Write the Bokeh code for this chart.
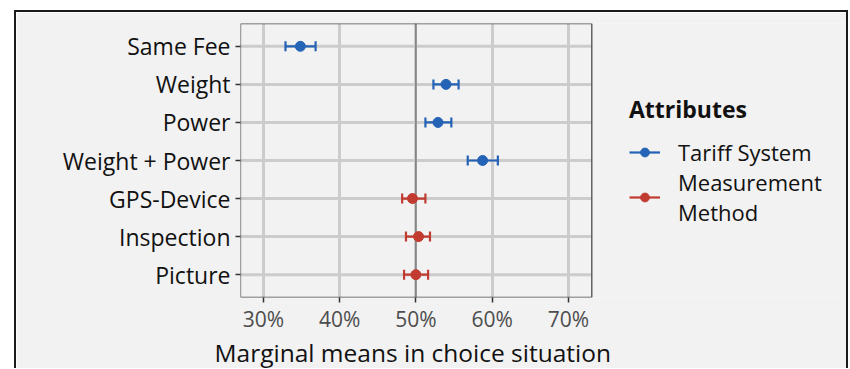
import math
from bokeh.plotting import figure
from bokeh.models import (ColumnDataSource, Range1d, FixedTicker, Span,
                          Legend, LegendItem, BoxAnnotation, Title)
from bokeh.embed import file_html
from bokeh.resources import INLINE

# ---- data ----
attributes = ["Same Fee", "Weight", "Power", "Weight + Power",
              "GPS-Device", "Inspection", "Picture"]
groups = ["Tariff System", "Tariff System", "Tariff System", "Tariff System",
          "Measurement Method", "Measurement Method", "Measurement Method"]
means = [34.85, 53.95, 52.9, 58.75, 49.55, 50.35, 50.0]
lower = [32.9, 52.3, 51.25, 56.8, 48.2, 48.7, 48.45]
upper = [36.85, 55.6, 54.65, 60.75, 51.25, 51.85, 51.6]
reference_value = 50
x_ticks = [30, 40, 50, 60, 70]
x_tick_labels = ["30%", "40%", "50%", "60%", "70%"]
x_title = "Marginal means in choice situation"
group_names = ["Tariff System", "Measurement Method"]
group_labels = ["Tariff System", "Measurement\nMethod"]
group_colors = ["#2463b5", "#c13b30"]

BG = "#f2f2f2"
FONT = "Open Sans"

# panel limits (axis scale) and category positions (top to bottom)
x_min, x_max = 27.0, 73.07
n = len(attributes)
y_pos = [n - 1 - i for i in range(n)]
y_min, y_max = -0.6, n - 1 + 0.6

# layout in pixels
W, H = 834, 358
left_b, top_b, bottom_b = 224, 11, 71
frame_w = (W - 4) - left_b
panel_px = 349.0
x_end = x_min + frame_w * (x_max - x_min) / panel_px

p = figure(width=W, height=H,
           x_range=Range1d(x_min, x_end), y_range=Range1d(y_min, y_max),
           output_backend="svg", toolbar_location=None,
           min_border_left=left_b, min_border_right=0,
           min_border_top=top_b, min_border_bottom=bottom_b)

p.styles = {"border-top": "2px solid #1a1a1a",
            "border-left": "2px solid #1a1a1a",
            "border-right": "2px solid #1a1a1a",
            "margin-left": "14px", "margin-top": "10px"}

p.background_fill_color = BG
p.border_fill_color = BG
p.outline_line_color = None

# grids: vertical from the axis ticker, horizontal drawn within the panel only
p.xgrid.grid_line_color = "#cccccc"
p.xgrid.grid_line_width = 3
p.ygrid.grid_line_color = None
p.segment(x0=[x_min] * n, x1=[x_max] * n, y0=y_pos, y1=y_pos,
          line_color="#cccccc", line_width=3, level="underlay")

# reference line at 50%
p.add_layout(Span(location=reference_value, dimension="height",
                  line_color="#808080", line_width=1.6, level="underlay"))

# panel border
p.add_layout(BoxAnnotation(left=x_min, right=x_max, bottom=y_min, top=y_max,
                           fill_color=None, line_color="#4d4d4d",
                           line_alpha=1.0, line_width=1.3, level="underlay"))

legend_items = []
for name, label, color in zip(group_names, group_labels, group_colors):
    idx = [i for i, g in enumerate(groups) if g == name]
    src = ColumnDataSource(dict(
        y=[y_pos[i] for i in idx],
        m=[means[i] for i in idx],
        lo=[lower[i] for i in idx],
        hi=[upper[i] for i in idx],
    ))
    seg = p.segment(x0="lo", y0="y", x1="hi", y1="y", source=src,
                    line_color=color, line_width=2.2)
    p.scatter(x="lo", y="y", source=src, marker="dash", angle=math.pi / 2,
              size=10, line_color=color, line_width=2.2)
    p.scatter(x="hi", y="y", source=src, marker="dash", angle=math.pi / 2,
              size=10, line_color=color, line_width=2.2)
    pts = p.scatter(x="m", y="y", source=src, size=10, color=color)
    legend_items.append(LegendItem(label=label, renderers=[seg, pts]))

legend = Legend(items=legend_items, title="Attributes", location=(389, 70),
                margin=0, padding=0,
                label_text_font=FONT, label_text_font_size="22px",
                label_text_color="#111111",
                title_text_font=FONT, title_text_font_size="23px",
                title_text_font_style="bold", title_text_color="#111111",
                glyph_width=31, glyph_height=22, label_standoff=18,
                spacing=0, title_standoff=12,
                background_fill_alpha=0, border_line_color=None)
p.add_layout(legend)

# axes
for ax in (p.xaxis[0], p.yaxis[0]):
    ax.axis_line_color = None
    ax.major_tick_line_color = "#333333"
    ax.major_tick_line_width = 1.5
    ax.major_tick_out = 5
    ax.major_tick_in = 0
    ax.minor_tick_line_color = None
    ax.major_label_text_font = FONT

p.xaxis.ticker = FixedTicker(ticks=x_ticks)
p.xaxis.bounds = (x_min, x_max)
p.xaxis.major_label_overrides = dict(zip(x_ticks, x_tick_labels))
p.xaxis.major_label_text_font_size = "21px"
p.xaxis.major_label_text_color = "#4d4d4d"
p.xaxis.major_label_standoff = 2

p.yaxis.ticker = FixedTicker(ticks=y_pos)
p.yaxis.major_label_overrides = dict(zip(y_pos, attributes))
p.yaxis.major_label_text_font_size = "23px"
p.yaxis.major_label_text_color = "#111111"
p.yaxis.major_label_standoff = 5

# x-axis title, left-aligned so that it sits centred under the panel
p.add_layout(Title(text=x_title, align="left", offset=-26,
                   vertical_align="top",
                   text_font=FONT, text_font_size="24.5px",
                   text_font_style="normal", text_color="#111111",
                   standoff=0), "below")

open("out.html", "w").write(file_html(p, INLINE))
